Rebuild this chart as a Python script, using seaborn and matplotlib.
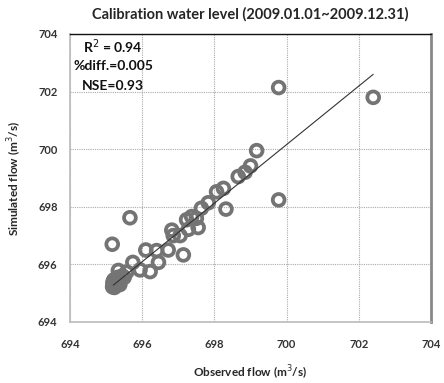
import matplotlib
matplotlib.use("Agg")
import matplotlib.pyplot as plt
import seaborn as sns
import pandas as pd

# ---- data ----
observed = [695.18, 695.20, 695.22, 695.19, 695.25, 695.21, 695.28, 695.23, 695.30, 695.26,
            695.35, 695.32, 695.40, 695.24, 695.20, 695.45, 695.38, 695.50, 695.22,
            695.34, 695.57, 695.74, 695.94, 696.22, 696.45, 696.10, 696.40, 696.72,
            697.14, 696.86, 696.82, 697.05, 697.28, 697.55, 697.23, 697.37, 697.50,
            697.64, 697.83, 698.06, 698.25, 698.32, 698.66, 698.85, 699.00, 699.17,
            699.78, 699.78, 702.40, 695.66, 695.17]
simulated = [695.22, 695.30, 695.25, 695.38, 695.28, 695.45, 695.32, 695.20, 695.40, 695.50,
             695.35, 695.55, 695.45, 695.26, 695.35, 695.60, 695.30, 695.55, 695.42,
             695.79, 695.73, 696.07, 695.81, 695.75, 696.07, 696.50, 696.48, 696.50,
             696.33, 697.00, 697.19, 697.00, 697.22, 697.28, 697.55, 697.66, 697.60,
             697.95, 698.14, 698.52, 698.64, 697.92, 699.05, 699.20, 699.42, 699.95,
             702.14, 698.24, 701.80, 697.62, 696.70]
fit_x = [695.20, 702.40]
fit_y = [695.28, 702.60]
ticks = [694, 696, 698, 700, 702, 704]
title = "Calibration water level (2009.01.01~2009.12.31)"
xlabel = "Observed flow (m$^3$/s)"
ylabel = "Simulated flow (m$^3$/s)"
stats_lines = ["R$^2$ = 0.94", "%diff.=0.005", "NSE=0.93"]

df = pd.DataFrame({"obs": observed, "sim": simulated})

sns.set_style("white")
plt.rcParams["font.family"] = ["Lato", "DejaVu Sans"]

fig = plt.figure(figsize=(4.44, 3.83), dpi=100)
ax = fig.add_axes([70 / 444, 1 - 322 / 383, 361 / 444, 288 / 383])

sns.scatterplot(data=df, x="obs", y="sim", ax=ax, marker="o", s=72,
                facecolors="none", edgecolor="#747474", linewidth=2.7, zorder=3)
sns.lineplot(x=fit_x, y=fit_y, ax=ax, color="#333333", linewidth=0.8, zorder=4)

ax.set_xlim(694, 704)
ax.set_ylim(694, 704)
ax.set_xticks(ticks)
ax.set_yticks(ticks)
ax.set_xticklabels([str(t) for t in ticks], fontsize=8, fontweight="bold", color="#333333")
ax.set_yticklabels([str(t) for t in ticks], fontsize=8, fontweight="bold", color="#333333")
ax.tick_params(axis="both", length=0, pad=12)
ax.tick_params(axis="y", pad=9)
ax.grid(True, linestyle=(0, (1, 1)), color="#aaaaaa", linewidth=0.8)
ax.set_axisbelow(True)

ax.spines["top"].set_color("#111111")
ax.spines["top"].set_linewidth(1.0)
ax.spines["right"].set_color("#888888")
ax.spines["right"].set_linewidth(2.0)
ax.spines["left"].set_color("#bbbbbb")
ax.spines["bottom"].set_color("#bbbbbb")
ax.spines["left"].set_linewidth(1.2)
ax.spines["bottom"].set_linewidth(1.2)

ax.set_xlabel(xlabel, fontsize=8.5, fontweight="bold", labelpad=10)
ax.set_ylabel(ylabel, fontsize=8.5, fontweight="bold", labelpad=10)
fig.text(250 / 444, 1 - 14 / 383, title, ha="center", va="center",
         fontsize=10.5, fontweight="bold")

for i, line in enumerate(stats_lines):
    ax.text(113 / 444, 1 - (47 + 19.5 * i) / 383, line, transform=fig.transFigure,
            ha="center", va="center", fontsize=10, fontweight="bold", color="#111111")

fig.savefig("out.png", dpi=100)
